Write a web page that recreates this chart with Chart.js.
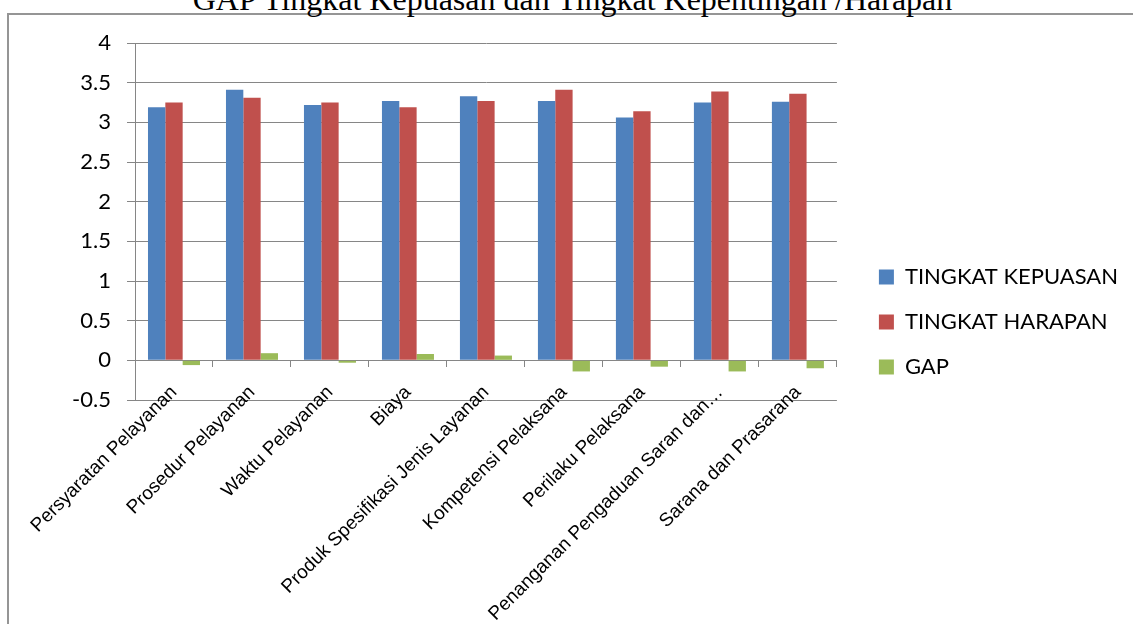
<!DOCTYPE html>
<html>
<head>
<meta charset="utf-8">
<script src="https://cdn.jsdelivr.net/npm/chart.js@4.4.1/dist/chart.umd.min.js"></script>
<style>
  html, body { margin: 0; padding: 0; width: 1133px; height: 624px; overflow: hidden; background: #fff; }
  #frame { position: absolute; left: 7px; top: 13px; width: 1200px; height: 700px; border: 2px solid #959595; box-sizing: border-box; }
  #title { position: absolute; left: 0; top: -17px; width: 1145px; text-align: center; font-family: "Liberation Serif", "Times New Roman", serif; font-size: 32px; line-height: 32px; color: #000; white-space: nowrap; }
  #wrap { position: absolute; left: 0; top: 0; width: 1133px; height: 624px; }
</style>
</head>
<body>
<div id="frame"></div>
<div id="title">GAP  Tingkat Kepuasan dan Tingkat Kepentingan /Harapan</div>
<div id="wrap"><canvas id="c" width="1133" height="624"></canvas></div>
<script>
const categories = [
  "Persyaratan Pelayanan",
  "Prosedur Pelayanan",
  "Waktu Pelayanan",
  "Biaya",
  "Produk Spesifikasi Jenis Layanan",
  "Kompetensi Pelaksana",
  "Perilaku Pelaksana",
  "Penanganan Pengaduan Saran dan…",
  "Sarana dan Prasarana"
];
const seriesNames = ["TINGKAT KEPUASAN", "TINGKAT HARAPAN", "GAP"];
const kepuasan = [3.19, 3.41, 3.22, 3.27, 3.33, 3.27, 3.06, 3.25, 3.26];
const harapan  = [3.25, 3.31, 3.25, 3.19, 3.27, 3.41, 3.14, 3.39, 3.36];
const gap      = [-0.06, 0.09, -0.03, 0.08, 0.06, -0.14, -0.08, -0.14, -0.10];
const yMin = -0.5, yMax = 4, yStep = 0.5;

const gridColor = '#868686';
const tickFont = { family: 'Lato', size: 22 };

new Chart(document.getElementById('c'), {
  type: 'bar',
  data: {
    labels: categories,
    datasets: [
      { label: seriesNames[0], data: kepuasan, backgroundColor: '#4F81BD', xAxisID: 'x', yAxisID: 'y' },
      { label: seriesNames[1], data: harapan, backgroundColor: '#C0504D', xAxisID: 'x', yAxisID: 'y' },
      { label: seriesNames[2], data: gap, backgroundColor: '#9BBB59', xAxisID: 'x', yAxisID: 'y' }
    ]
  },
  options: {
    responsive: false,
    animation: false,
    devicePixelRatio: 1,
    categoryPercentage: 0.667,
    barPercentage: 1,
    layout: { padding: { left: 0, right: 5, top: 43, bottom: 23 } },
    plugins: {
      legend: {
        position: 'right',
        align: 'center',
        maxWidth: 400,
        labels: {
          boxWidth: 15,
          boxHeight: 15,
          padding: 23,
          color: '#000',
          font: { family: 'Lato', size: 22 }
        }
      },
      tooltip: { enabled: false }
    },
    scales: {
      x: {
        type: 'category',
        position: { y: 0 },
        offset: true,
        grid: { display: true, drawOnChartArea: false, drawTicks: true, tickLength: 6, color: gridColor, offset: true },
        border: { display: true, color: gridColor, width: 1 },
        ticks: {
          color: '#000',
          font: { family: 'Liberation Sans', size: 19 },
          minRotation: 45,
          maxRotation: 45,
          autoSkip: false,
          padding: 15
        }
      },
      xpad: {
        type: 'category',
        axis: 'x',
        position: 'bottom',
        display: true,
        grid: { display: false },
        border: { display: false },
        ticks: { display: false },
        afterFit: (s) => { s.height = 201; }
      },
      y: {
        type: 'linear',
        position: 'left',
        min: yMin,
        max: yMax,
        ticks: { stepSize: yStep, color: '#000', font: tickFont, padding: 16, callback: (v) => String(v) },
        grid: { color: gridColor, lineWidth: 1, tickLength: 8, drawTicks: true },
        border: { display: true, color: gridColor, width: 1 },
        afterFit: (s) => { s.width = 135; }
      },
      ypad: {
        type: 'linear',
        axis: 'y',
        position: 'right',
        display: true,
        grid: { display: false },
        border: { display: false },
        ticks: { display: false },
        afterFit: (s) => { s.width = 19; }
      }
    }
  }
});
</script>
</body>
</html>
